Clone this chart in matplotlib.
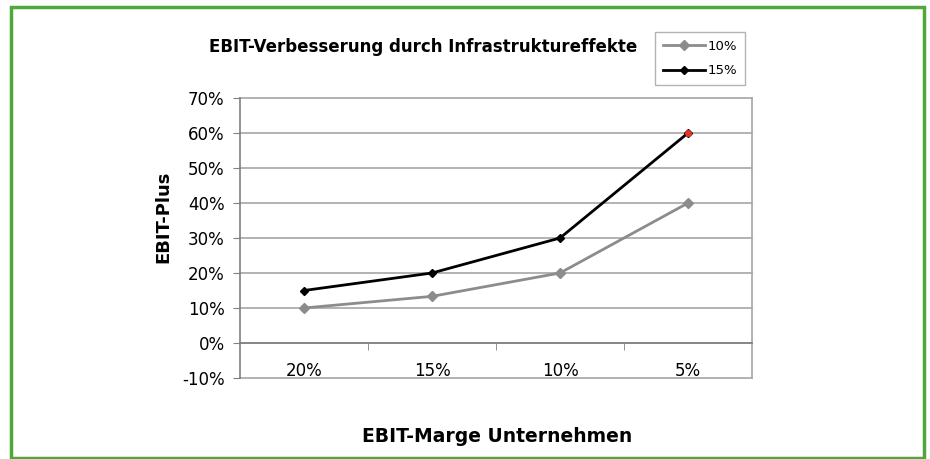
import matplotlib
matplotlib.use("Agg")
import matplotlib.pyplot as plt
from matplotlib.patches import Rectangle
from matplotlib.ticker import FuncFormatter, FixedLocator

plt.rcParams['font.family'] = ['DejaVu Sans']

categories = ["20%", "15%", "10%", "5%"]
series_10 = [0.10, 0.1333, 0.20, 0.40]
series_15 = [0.15, 0.20, 0.30, 0.60]
series_names = ["10%", "15%"]
yticks = [-0.1, 0.0, 0.1, 0.2, 0.3, 0.4, 0.5, 0.6, 0.7]

W, H = 930, 459
fig = plt.figure(figsize=(W/100, H/100), dpi=100)
ax = fig.add_axes([240/W, 1-378/H, (752-240)/W, (378-98)/H])

x = [i + 0.5 for i in range(len(categories))]
l1, = ax.plot(x, series_10, color="#8c8c8c", lw=2, marker="D", ms=5,
              mfc="#8c8c8c", mec="#8c8c8c", label=series_names[0])
l2, = ax.plot(x, series_15, color="#000000", lw=2, marker="D", ms=4,
              mfc="#000000", mec="#000000", label=series_names[1])
# last point of 15% series shown in red
ax.plot(x[-1:], series_15[-1:], linestyle="none", marker="o", ms=4,
        mfc="#e8322a", mec="#e8322a", zorder=5)

ax.set_xlim(0, len(categories))
ax.set_ylim(-0.1, 0.7)
ax.yaxis.set_major_locator(FixedLocator(yticks))
ax.yaxis.set_major_formatter(FuncFormatter(lambda v, p: f"{round(v*100):d}%"))
ax.yaxis.grid(True, color="#a6a6a6", lw=1.2)
ax.set_axisbelow(True)
for gl in ax.get_ygridlines():
    gl.set_clip_on(False)

ax.set_xticks(x)
ax.set_xticklabels(categories)
ax.set_xticks([1, 2, 3], minor=True)
ax.tick_params(axis="x", which="major", length=0, pad=14, labelsize=12)
ax.tick_params(axis="x", which="minor", length=5, direction="out", color="#808080")
ax.tick_params(axis="y", length=5, direction="out", color="#808080", labelsize=12, pad=6)

ax.spines['bottom'].set_position(('data', 0))
ax.spines['bottom'].set_color("#808080")
ax.spines['bottom'].set_linewidth(1.2)
ax.spines['left'].set_color("#808080")
ax.spines['left'].set_linewidth(1.2)
ax.spines['right'].set_color("#a6a6a6")
ax.spines['right'].set_linewidth(1.2)
ax.spines['top'].set_visible(False)

fig.text(423/W, 1-47/H, "EBIT-Verbesserung durch Infrastruktureffekte",
         ha="center", va="center", fontsize=12, fontweight="bold")
fig.text(163/W, 1-217/H, "EBIT-Plus", rotation=90, ha="center", va="center",
         fontsize=13, fontweight="bold")
fig.text(497/W, 1-436/H, "EBIT-Marge Unternehmen", ha="center", va="center",
         fontsize=13.5, fontweight="bold")

leg = fig.legend(handles=[l1, l2], loc="upper left",
                 bbox_to_anchor=(655/W, 1-32/H), fontsize=9.5, frameon=True,
                 fancybox=False, edgecolor="#a0a0a0", handlelength=3.2,
                 borderpad=0.6, labelspacing=0.85, handletextpad=0.2,
                 borderaxespad=0)
leg.get_frame().set_linewidth(1.0)

fig.patches.append(Rectangle((11/W, 1-458/H), (924-11)/W, (458-7)/H,
                             transform=fig.transFigure, fill=False,
                             edgecolor="#4fa83a", lw=2.5))

fig.savefig("out.png", dpi=100)
